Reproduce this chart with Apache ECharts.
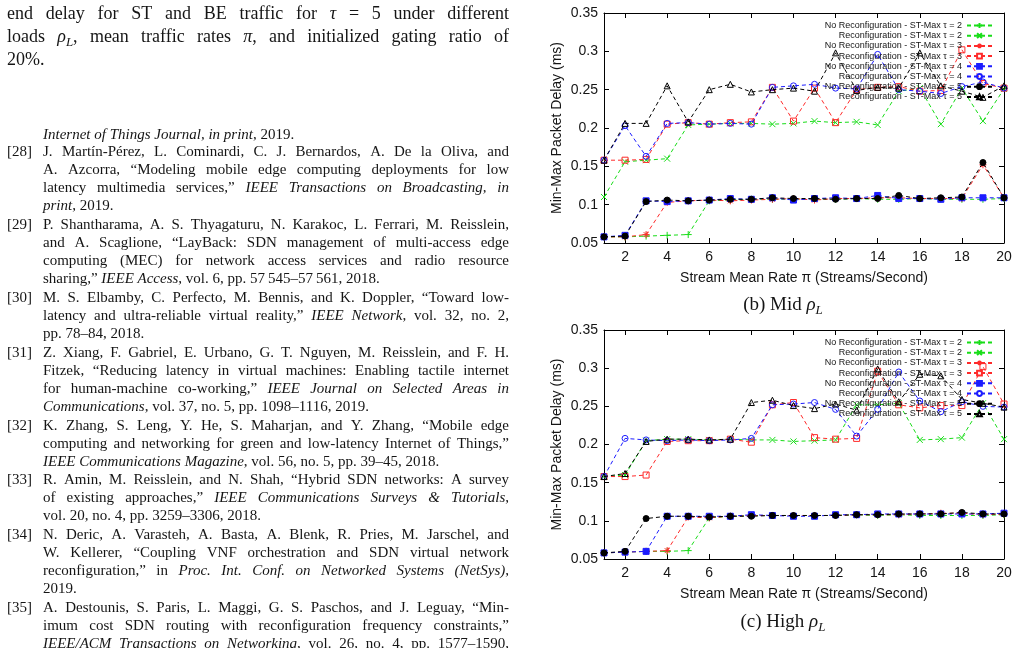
<!DOCTYPE html>
<html>
<head>
<meta charset="utf-8">
<script src="https://cdn.jsdelivr.net/npm/echarts@6/dist/echarts.min.js"></script>
<style>
  html, body { margin: 0; padding: 0; background: #fff; }
  #chart { width: 1020px; height: 648px; }
</style>
</head>
<body>
<div id="chart"></div>
<script>
// stream mean rate (x values)
const rates = [1, 2, 3, 4, 5, 6, 7, 8, 9, 10, 11, 12, 13, 14, 15, 16, 17, 18, 19, 20]
const xTicks = [2, 4, 6, 8, 10, 12, 14, 16, 18, 20]

const legendNames = [
  'No Reconfiguration - ST-Max τ = 2',
  'Reconfiguration - ST-Max τ = 2',
  'No Reconfiguration - ST-Max τ = 3',
  'Reconfiguration - ST-Max τ = 3',
  'No Reconfiguration - ST-Max τ = 4',
  'Reconfiguration - ST-Max τ = 4',
  'No Reconfiguration - ST-Max τ = 5',
  'Reconfiguration - ST-Max τ = 5'
]

// (b) Mid load
const midNo2 = [0.058, 0.058, 0.059, 0.060, 0.061, 0.105, 0.106, 0.107, 0.107, 0.107, 0.107, 0.107, 0.108, 0.107, 0.107, 0.108, 0.107, 0.107, 0.107, 0.108]
const midRe2 = [0.110, 0.156, 0.158, 0.160, 0.204, 0.205, 0.206, 0.206, 0.205, 0.206, 0.209, 0.207, 0.208, 0.204, 0.248, 0.252, 0.205, 0.252, 0.209, 0.251]
const midNo3 = [0.058, 0.058, 0.061, 0.103, 0.105, 0.106, 0.105, 0.106, 0.107, 0.108, 0.106, 0.108, 0.108, 0.109, 0.109, 0.108, 0.108, 0.108, 0.152, 0.109]
const midRe3 = [0.158, 0.158, 0.159, 0.205, 0.207, 0.205, 0.207, 0.208, 0.253, 0.209, 0.252, 0.207, 0.250, 0.253, 0.254, 0.248, 0.249, 0.302, 0.258, 0.252]
const midNo4 = [0.058, 0.060, 0.105, 0.104, 0.105, 0.106, 0.108, 0.107, 0.109, 0.106, 0.108, 0.109, 0.108, 0.112, 0.108, 0.108, 0.107, 0.109, 0.109, 0.109]
const midRe4 = [0.158, 0.203, 0.163, 0.206, 0.207, 0.205, 0.206, 0.205, 0.253, 0.255, 0.257, 0.252, 0.251, 0.296, 0.250, 0.248, 0.245, 0.254, 0.260, 0.252]
const midNo5 = [0.058, 0.059, 0.104, 0.106, 0.105, 0.106, 0.107, 0.107, 0.109, 0.108, 0.108, 0.107, 0.108, 0.108, 0.112, 0.108, 0.109, 0.110, 0.155, 0.109]
const midRe5 = [0.158, 0.206, 0.206, 0.255, 0.208, 0.250, 0.257, 0.247, 0.250, 0.252, 0.248, 0.298, 0.249, 0.253, 0.252, 0.298, 0.255, 0.248, 0.240, 0.255]

// (c) High load
const highNo2 = [0.058, 0.059, 0.060, 0.060, 0.061, 0.104, 0.106, 0.107, 0.107, 0.107, 0.107, 0.107, 0.108, 0.107, 0.108, 0.107, 0.107, 0.107, 0.107, 0.108]
const highRe2 = [0.158, 0.160, 0.205, 0.207, 0.207, 0.206, 0.207, 0.206, 0.206, 0.204, 0.205, 0.206, 0.252, 0.252, 0.254, 0.206, 0.207, 0.209, 0.254, 0.207]
const highNo3 = [0.058, 0.059, 0.060, 0.061, 0.105, 0.104, 0.106, 0.107, 0.107, 0.107, 0.107, 0.107, 0.108, 0.108, 0.108, 0.109, 0.110, 0.110, 0.108, 0.109]
const highRe3 = [0.158, 0.158, 0.160, 0.204, 0.205, 0.205, 0.207, 0.203, 0.252, 0.255, 0.209, 0.207, 0.208, 0.296, 0.252, 0.248, 0.251, 0.251, 0.302, 0.253]
const highNo4 = [0.058, 0.059, 0.060, 0.106, 0.106, 0.106, 0.106, 0.108, 0.107, 0.106, 0.106, 0.108, 0.108, 0.109, 0.109, 0.109, 0.109, 0.109, 0.109, 0.110]
const highRe4 = [0.158, 0.208, 0.206, 0.205, 0.206, 0.205, 0.206, 0.208, 0.252, 0.253, 0.255, 0.246, 0.211, 0.246, 0.295, 0.257, 0.243, 0.256, 0.250, 0.249]
const highNo5 = [0.058, 0.060, 0.103, 0.106, 0.106, 0.105, 0.106, 0.106, 0.107, 0.107, 0.107, 0.107, 0.108, 0.108, 0.109, 0.109, 0.109, 0.111, 0.109, 0.109]
const highRe5 = [0.158, 0.162, 0.204, 0.207, 0.207, 0.206, 0.207, 0.255, 0.258, 0.251, 0.247, 0.253, 0.245, 0.299, 0.256, 0.292, 0.290, 0.259, 0.254, 0.249]

// text of the page around the figure (* = italic, _X = subscript)
const paraLines = [
  'end delay for ST and BE traffic for *τ* = 5 under different',
  'loads *ρ*_L, mean traffic rates *π*, and initialized gating ratio of',
  '20%.'
]
const refs = [
  { label: '', lines: ['*Internet of Things Journal, in print*, 2019.'] },
  { label: '[28]', lines: [
    'J. Martín-Pérez, L. Cominardi, C. J. Bernardos, A. De la Oliva, and',
    'A. Azcorra, “Modeling mobile edge computing deployments for low',
    'latency multimedia services,” *IEEE Transactions on Broadcasting, in*',
    '*print*, 2019.'] },
  { label: '[29]', lines: [
    'P. Shantharama, A. S. Thyagaturu, N. Karakoc, L. Ferrari, M. Reisslein,',
    'and A. Scaglione, “LayBack: SDN management of multi-access edge',
    'computing (MEC) for network access services and radio resource',
    'sharing,” *IEEE Access*, vol. 6, pp. 57\u2009545–57\u2009561, 2018.'] },
  { label: '[30]', lines: [
    'M. S. Elbamby, C. Perfecto, M. Bennis, and K. Doppler, “Toward low-',
    'latency and ultra-reliable virtual reality,” *IEEE Network*, vol. 32, no. 2,',
    'pp. 78–84, 2018.'] },
  { label: '[31]', lines: [
    'Z. Xiang, F. Gabriel, E. Urbano, G. T. Nguyen, M. Reisslein, and F. H.',
    'Fitzek, “Reducing latency in virtual machines: Enabling tactile internet',
    'for human-machine co-working,” *IEEE Journal on Selected Areas in*',
    '*Communications*, vol. 37, no. 5, pp. 1098–1116, 2019.'] },
  { label: '[32]', lines: [
    'K. Zhang, S. Leng, Y. He, S. Maharjan, and Y. Zhang, “Mobile edge',
    'computing and networking for green and low-latency Internet of Things,”',
    '*IEEE Communications Magazine*, vol. 56, no. 5, pp. 39–45, 2018.'] },
  { label: '[33]', lines: [
    'R. Amin, M. Reisslein, and N. Shah, “Hybrid SDN networks: A survey',
    'of existing approaches,” *IEEE Communications Surveys & Tutorials*,',
    'vol. 20, no. 4, pp. 3259–3306, 2018.'] },
  { label: '[34]', lines: [
    'N. Deric, A. Varasteh, A. Basta, A. Blenk, R. Pries, M. Jarschel, and',
    'W. Kellerer, “Coupling VNF orchestration and SDN virtual network',
    'reconfiguration,” in *Proc. Int. Conf. on Networked Systems (NetSys)*,',
    '2019.'] },
  { label: '[35]', lines: [
    'A. Destounis, S. Paris, L. Maggi, G. S. Paschos, and J. Leguay, “Min-',
    'imum cost SDN routing with reconfiguration frequency constraints,”',
    '*IEEE/ACM Transactions on Networking*, vol. 26, no. 4, pp. 1577–1590,',
    ''] }
]

const SERIF = '"Liberation Serif", "Times New Roman", serif'
const SANS = '"Liberation Sans", Arial, sans-serif'
const INK = '#151515'

const measureCtx = document.createElement('canvas').getContext('2d')
function fontFor(st, size) {
  if (st === 'i') return 'italic ' + size + 'px ' + SERIF
  if (st === 'sub') return 'italic ' + Math.round(size * 0.7) + 'px ' + SERIF
  return size + 'px ' + SERIF
}
function parseLine(s) {
  const words = [[]]
  let st = 'n'
  for (let i = 0; i < s.length; i++) {
    const c = s[i]
    if (c === '*') { st = st === 'i' ? 'n' : 'i'; continue }
    const w = words[words.length - 1]
    if (c === '_') { w.push({ t: s[i + 1], st: 'sub' }); i++; continue }
    if (c === ' ') { words.push([]); continue }
    if (w.length && w[w.length - 1].st === st) w[w.length - 1].t += c
    else w.push({ t: c, st: st })
  }
  return words.filter(w => w.length)
}
function pieceWidth(p, size) {
  measureCtx.font = fontFor(p.st, size)
  return measureCtx.measureText(p.t).width
}
// lay a line of words between x0 and x1; mode: 'justify' | 'left' | 'center'
function textLine(s, x0, x1, y, size, mode) {
  const words = parseLine(s)
  const widths = words.map(w => w.reduce((a, p) => a + pieceWidth(p, size), 0))
  const total = widths.reduce((a, b) => a + b, 0)
  measureCtx.font = fontFor('n', size)
  let gap = measureCtx.measureText(' ').width
  let x = x0
  if (mode === 'justify' && words.length > 1) gap = (x1 - x0 - total) / (words.length - 1)
  if (mode === 'center') x = (x0 + x1) / 2 - (total + gap * (words.length - 1)) / 2
  const els = []
  words.forEach(w => {
    w.forEach(p => {
      els.push({
        type: 'text', silent: true,
        x: x, y: p.st === 'sub' ? y + size * 0.3 : y,
        style: { text: p.t, font: fontFor(p.st, size), fill: INK, align: 'left', verticalAlign: 'middle', textAlign: 'left', textVerticalAlign: 'middle' }
      })
      x += pieceWidth(p, size)
    })
    x += gap
  })
  return els
}

function buildPageText() {
  let els = []
  paraLines.forEach((l, i) => {
    els = els.concat(textLine(l, 7, 509, 14 + i * 23, 18, i < paraLines.length - 1 ? 'justify' : 'left'))
  })
  let row = -1
  refs.forEach((r, ri) => {
    r.lines.forEach((l, i) => {
      const y = 152 + row * 18 + Math.max(ri - 1, 0) * 0.9 + (row < 0 ? 1 : 0)
      if (i === 0 && r.label) els = els.concat(textLine(r.label, 7, 43, y, 15, 'left'))
      const last = i === r.lines.length - 1
      if (l) els = els.concat(textLine(l, 43, 509, y, 15, last ? 'left' : 'justify'))
      row++
    })
  })
  els = els.concat(textLine('(b) Mid *ρ*_L', 700, 866, 305, 19, 'center'))
  els = els.concat(textLine('(c) High *ρ*_L', 700, 866, 622, 19, 'center'))
  return els
}

const GREEN = '#18dd18'
const RED = '#ff2a2a'
const BLUE = '#1c1cff'
const BLACK = '#000000'
const PLUS = 'path://M0,5L10,5M5,0L5,10'
const CROSS = 'path://M0,0L10,10M10,0L0,10'
const STAR = 'path://M0,5L10,5M5,0L5,10M1.5,1.5L8.5,8.5M8.5,1.5L1.5,8.5'
// hollow marks are drawn as outlines with a clear fill, like gnuplot's open points
const styles = [
  { color: GREEN, symbol: PLUS, size: 7, hollow: true },
  { color: GREEN, symbol: CROSS, size: 6, hollow: true },
  { color: RED, symbol: STAR, size: 7, hollow: true },
  { color: RED, symbol: 'rect', size: 6, hollow: true },
  { color: BLUE, symbol: 'rect', size: 6, hollow: false },
  { color: BLUE, symbol: 'circle', size: 6, hollow: true },
  { color: BLACK, symbol: 'circle', size: 6, hollow: false },
  { color: BLACK, symbol: 'triangle', size: 6, hollow: true }
]

const midSets = [midNo2, midRe2, midNo3, midRe3, midNo4, midRe4, midNo5, midRe5]
const highSets = [highNo2, highRe2, highNo3, highRe3, highNo4, highRe4, highNo5, highRe5]

function itemStyleOf(s) {
  return { color: s.hollow ? 'rgba(255,255,255,0)' : s.color, borderColor: s.color, borderWidth: 1, opacity: 1 }
}

// dashed lines first (they carry the legend icons), then the point marks
function makeSeries(sets, g) {
  const lines = []
  const marks = []
  sets.forEach((vals, k) => {
    const s = styles[k]
    const data = rates.map((r, i) => [r, vals[i]])
    lines.push({
      name: legendNames[k], type: 'line', xAxisIndex: g * 2, yAxisIndex: g * 2,
      data: data, symbol: s.symbol, symbolSize: s.size, showSymbol: false,
      lineStyle: { color: s.color, width: 1, type: [4, 3] },
      itemStyle: itemStyleOf(s),
      emphasis: { disabled: true }, silent: true,
      z: 2 + k * 2
    })
    marks.push({
      name: legendNames[k], type: 'scatter', xAxisIndex: g * 2, yAxisIndex: g * 2,
      data: data, symbol: s.symbol, symbolSize: s.size,
      itemStyle: itemStyleOf(s),
      emphasis: { disabled: true }, silent: true,
      z: 3 + k * 2
    })
  })
  return { lines: lines, marks: marks }
}

function xAxes(g) {
  const tick = { inside: true, length: 5, customValues: xTicks, lineStyle: { color: '#000' } }
  return [
    {
      gridIndex: g, type: 'value', min: 1, max: 20, position: 'bottom',
      axisLine: { lineStyle: { color: '#000', width: 1 } },
      axisTick: tick,
      axisLabel: { customValues: xTicks, margin: 7, fontSize: 14, color: INK, fontFamily: SANS },
      splitLine: { show: false },
      name: 'Stream Mean Rate π (Streams/Second)',
      nameLocation: 'middle', nameGap: 28,
      nameTextStyle: { fontSize: 14, color: INK, fontFamily: SANS }
    },
    {
      gridIndex: g, type: 'value', min: 1, max: 20, position: 'top',
      axisLine: { lineStyle: { color: '#000', width: 1 } },
      axisTick: tick,
      axisLabel: { show: false },
      splitLine: { show: false }
    }
  ]
}
function yAxes(g) {
  const tick = { inside: true, length: 5, lineStyle: { color: '#000' } }
  return [
    {
      gridIndex: g, type: 'value', min: 0.05, max: 0.35, interval: 0.05, position: 'left',
      axisLine: { show: true, lineStyle: { color: '#000', width: 1 } },
      axisTick: tick,
      axisLabel: { margin: 6, fontSize: 14, color: INK, fontFamily: SANS },
      splitLine: { show: false },
      name: 'Min-Max Packet Delay (ms)',
      nameLocation: 'middle', nameGap: 40,
      nameTextStyle: { fontSize: 14, color: INK, fontFamily: SANS }
    },
    {
      gridIndex: g, type: 'value', min: 0.05, max: 0.35, interval: 0.05, position: 'right',
      axisLine: { show: true, lineStyle: { color: '#000', width: 1 } },
      axisTick: tick,
      axisLabel: { show: false },
      splitLine: { show: false }
    }
  ]
}

function legendAt(top) {
  return {
    data: legendNames,
    orient: 'vertical',
    right: 27,
    top: top,
    align: 'right',
    padding: 0,
    itemWidth: 25,
    itemHeight: 6,
    itemGap: 1.2,
    selectedMode: false,
    z: 20,
    textStyle: { fontSize: 9, color: INK, fontFamily: SANS, padding: [0, 0, 0, 0] }
  }
}

const mid = makeSeries(midSets, 0)
const high = makeSeries(highSets, 1)
const chart = echarts.init(document.getElementById('chart'), null, { renderer: 'canvas' })
chart.setOption({
  animation: false,
  backgroundColor: '#fff',
  grid: [
    { left: 604, top: 13, width: 400, height: 230 },
    { left: 604, top: 330, width: 400, height: 229 }
  ],
  xAxis: xAxes(0).concat(xAxes(1)),
  yAxis: yAxes(0).concat(yAxes(1)),
  legend: [legendAt(21), legendAt(338)],
  series: mid.lines.concat(high.lines, mid.marks, high.marks),
  graphic: { elements: buildPageText() }
})
</script>
</body>
</html>
